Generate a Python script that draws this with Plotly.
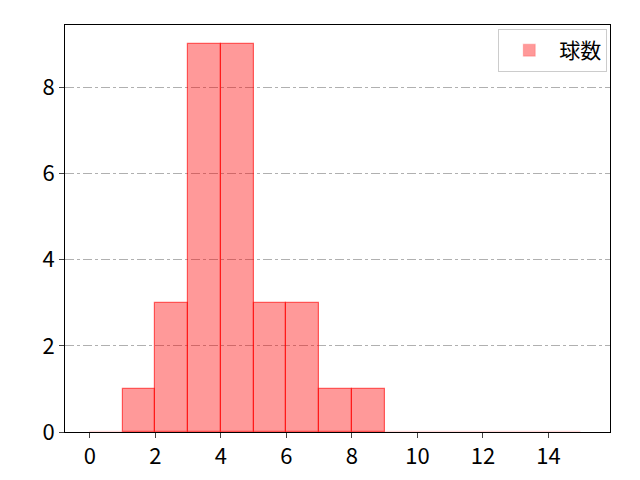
import plotly.graph_objects as go

# bin left edges and counts (width 1)
bin_left = [0, 1, 2, 3, 4, 5, 6, 7, 8, 9, 10, 11, 12, 13, 14]
counts = [0, 1, 3, 9, 9, 3, 3, 1, 1, 0, 0, 0, 0, 0, 0]
x_ticks = [0, 2, 4, 6, 8, 10, 12, 14]
y_ticks = [0, 2, 4, 6, 8]

centers = [b + 0.5 for b in bin_left]
# empty bins only leave a faint outline on the baseline
edge_colors = ['rgba(255,0,0,0.6)' if c > 0 else 'rgba(255,0,0,0.15)' for c in counts]

fig = go.Figure()
fig.add_trace(go.Bar(
    x=centers, y=counts, width=1, name='球数',
    marker=dict(color='rgba(255,0,0,0.4)', line=dict(color=edge_colors, width=1.2)),
    showlegend=True,
))

fig.update_layout(
    width=640, height=480,
    margin=dict(l=57, r=38, t=17, b=56),
    plot_bgcolor='white', paper_bgcolor='white',
    font=dict(family='Noto Sans CJK JP, DejaVu Sans', size=22, color='black'),
    bargap=0,
    legend=dict(x=0.995, y=0.99, xanchor='right', yanchor='top',
                bgcolor='white', bordercolor='#cccccc', borderwidth=1,
                font=dict(size=21), itemwidth=50),
)
fig.update_xaxes(range=[-0.76, 15.88], tickvals=x_ticks, showgrid=False,
                 showline=True, linecolor='black', linewidth=1, mirror=True,
                 ticks='outside', ticklen=5, zeroline=False, automargin=False)
fig.update_yaxes(range=[0, 9.45], tickvals=y_ticks, showgrid=True,
                 gridcolor='#b0b0b0', griddash='dashdot', gridwidth=1,
                 showline=True, linecolor='black', linewidth=1, mirror=True,
                 ticks='outside', ticklen=5, zeroline=False, automargin=False)

fig.write_html("out.html")
